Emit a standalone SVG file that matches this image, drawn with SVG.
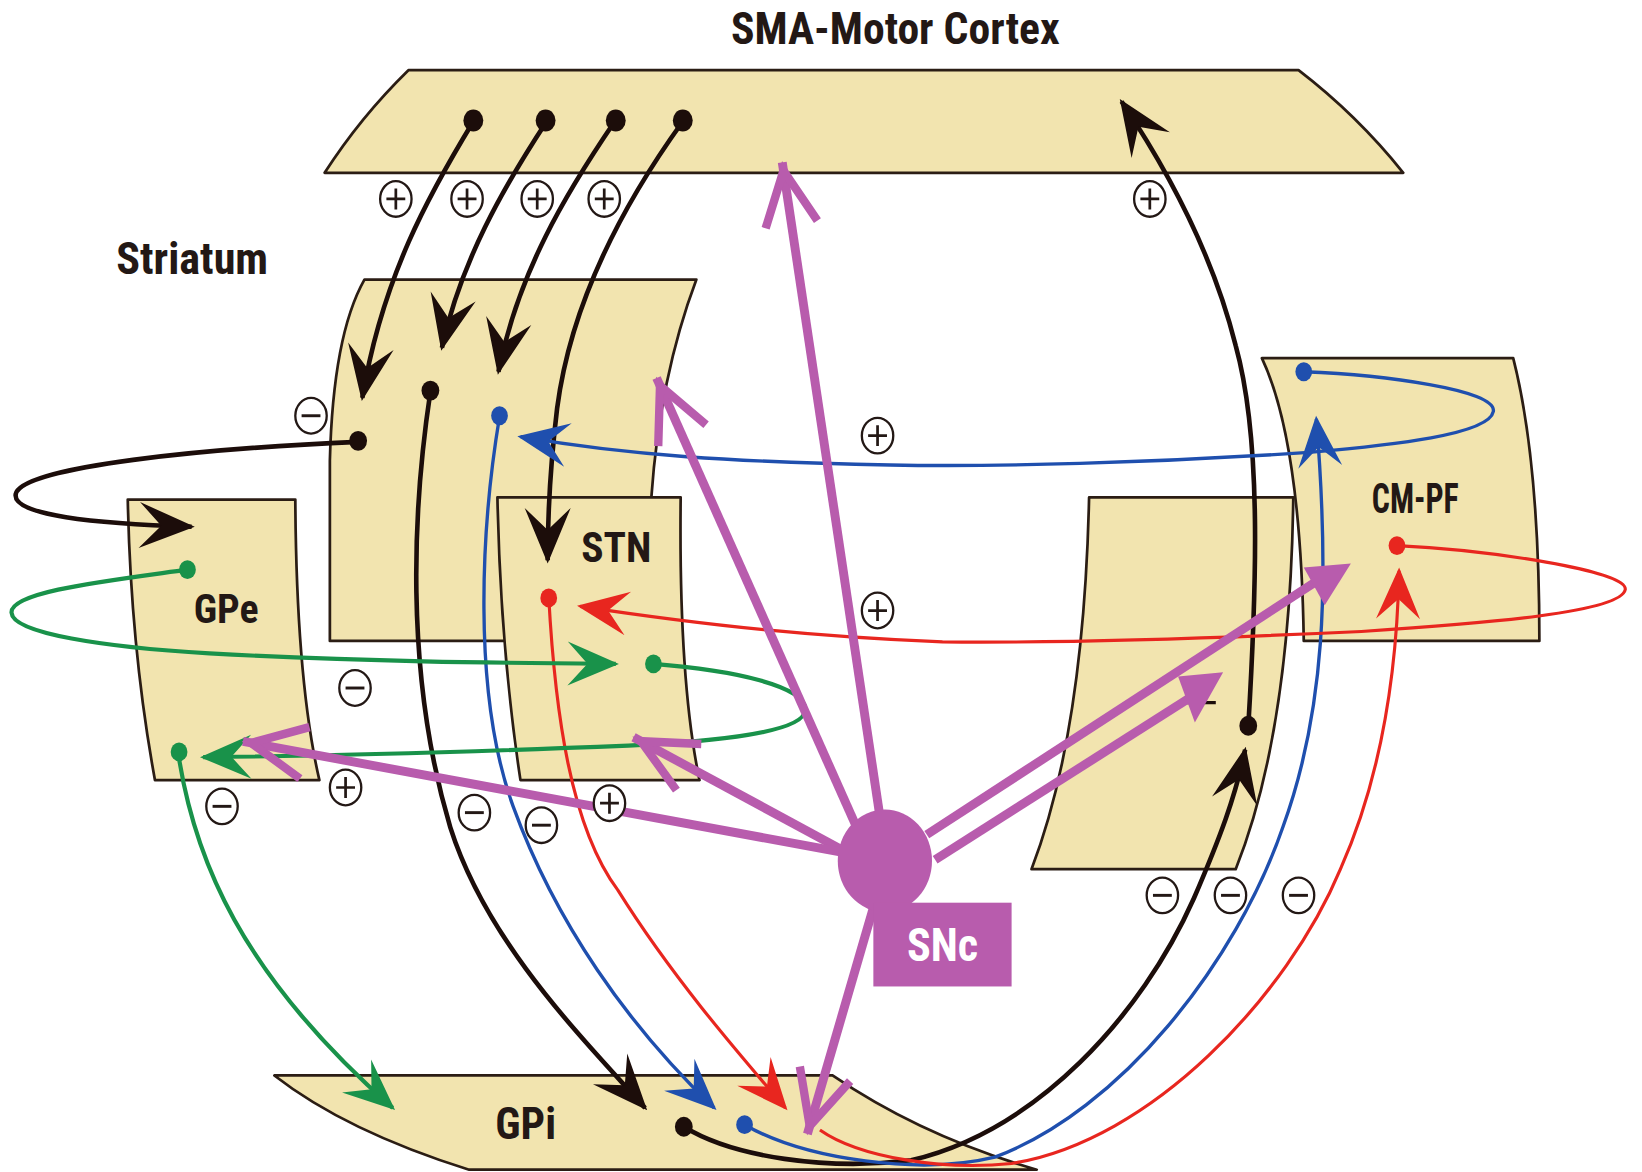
<svg xmlns="http://www.w3.org/2000/svg" width="1642" height="1172" viewBox="0 0 1642 1172">
<style>
.shape{fill:#f2e4af;stroke:#2b1d14;stroke-width:2.6;stroke-linejoin:round}
.lbl{font-family:"Liberation Sans Narrow","Roboto Condensed","Liberation Sans",Arial,sans-serif;font-weight:bold;fill:#231815}
.fk{fill:none;stroke:#1c0d0a;stroke-width:4.4}
.fb{fill:none;stroke:#1f4fae;stroke-width:3.2}
.fr{fill:none;stroke:#e8261f;stroke-width:3}
.fg{fill:none;stroke:#19924a;stroke-width:4}
.mg{fill:none;stroke:#b85cad;stroke-width:8.5}
.dk{fill:#1c0d0a}.db{fill:#1f4fae}.dr{fill:#e8261f}.dg{fill:#19924a}
</style>
<defs>
<marker id="ak" markerUnits="userSpaceOnUse" orient="auto" overflow="visible" refX="0" refY="0" markerWidth="1" markerHeight="1"><path d="M3,0 L-50,-22 L-29,0 L-50,22 Z" fill="#1c0d0a"/></marker>
<marker id="ab" markerUnits="userSpaceOnUse" orient="auto" overflow="visible" refX="0" refY="0" markerWidth="1" markerHeight="1"><path d="M3,0 L-46,-21 L-27,0 L-46,21 Z" fill="#1f4fae"/></marker>
<marker id="ar" markerUnits="userSpaceOnUse" orient="auto" overflow="visible" refX="0" refY="0" markerWidth="1" markerHeight="1"><path d="M3,0 L-46,-21 L-27,0 L-46,21 Z" fill="#e8261f"/></marker>
<marker id="ag" markerUnits="userSpaceOnUse" orient="auto" overflow="visible" refX="0" refY="0" markerWidth="1" markerHeight="1"><path d="M3,0 L-46,-21 L-27,0 L-46,21 Z" fill="#19924a"/></marker>
<marker id="am" markerUnits="userSpaceOnUse" orient="auto" overflow="visible" refX="0" refY="0" markerWidth="1" markerHeight="1"><path d="M-60,-25 L-8,0 L-60,25" fill="none" stroke="#b85cad" stroke-width="8" stroke-linejoin="miter"/></marker>
<g id="plus"><ellipse rx="15" ry="17" fill="#fff" stroke="#231815" stroke-width="2.2"/><path d="M-9,0H9M0,-10V10" stroke="#231815" stroke-width="2.6"/></g>
<g id="minus"><ellipse rx="15" ry="17" fill="#fff" stroke="#231815" stroke-width="2.2"/><path d="M-9,0H9" stroke="#231815" stroke-width="2.8"/></g>
</defs>
<rect width="1642" height="1172" fill="#fff"/>
<g transform="scale(1.0472)">
<g id="cortex">
<path class="shape" d="M390,67 L1240,67 Q1296,110 1340,165 L310,165 Q344,112 390,67 Z"/>
<text class="lbl" x="698" y="42" font-size="42" textLength="314" lengthAdjust="spacingAndGlyphs">SMA-Motor Cortex</text>
</g>
<g id="striatum">
<path class="shape" d="M348,267 L665,267 Q630,360 622,475 L600,612 L315,612 L315,440 Q318,320 348,267 Z"/>
<text class="lbl" x="111" y="262" font-size="42" textLength="145" lengthAdjust="spacingAndGlyphs">Striatum</text>
</g>
<g id="gpe">
<path class="shape" d="M122,477 L282,477 Q283,650 305,745 L148,745 Q125,620 122,477 Z"/>
<text class="lbl" x="185" y="595" font-size="39" textLength="62" lengthAdjust="spacingAndGlyphs">GPe</text>
</g>
<g id="stn">
<path class="shape" d="M475,475 L650,475 Q648,650 668,745 L497,745 Q478,620 475,475 Z"/>
<text class="lbl" x="555" y="537" font-size="40" textLength="67" lengthAdjust="spacingAndGlyphs">STN</text>
</g>
<g id="thalamus">
<path class="shape" d="M1040,475 L1235,475 Q1232,700 1180,830 L985,830 Q1035,700 1040,475 Z"/>
<path d="M1130,671 H1161" stroke="#1c0d0a" stroke-width="3"/>
</g>
<g id="cmpf">
<path class="shape" d="M1205,342 L1445,342 Q1470,440 1470,612 L1245,612 Q1242,420 1205,342 Z"/>
<text class="lbl" x="1310" y="490" font-size="41" textLength="83" lengthAdjust="spacingAndGlyphs">CM-PF</text>
</g>
<g id="gpi">
<path class="shape" d="M262,1027 L795,1027 Q880,1085 990,1117 L448,1117 Q330,1080 262,1027 Z"/>
<text class="lbl" x="473" y="1088" font-size="42" textLength="58" lengthAdjust="spacingAndGlyphs">GPi</text>
</g>
<g id="connectors">
<path class="fk" d="M452,116 C410,185 365,265 346,380" marker-end="url(#ak)"/>
<path class="fk" d="M522,116 C480,180 440,250 422,332" marker-end="url(#ak)"/>
<path class="fk" d="M587,116 C540,185 495,260 476,355" marker-end="url(#ak)"/>
<path class="fk" d="M652,116 C595,195 545,290 532,390 C526,440 523,490 523,535" marker-end="url(#ak)"/>
<path class="fk" d="M342,422 C200,428 20,445 15,472 C12,492 90,500 183,503" marker-end="url(#ak)"/>
<path class="fk" d="M411,374 C395,480 385,640 430,790 C465,900 555,990 616,1058" marker-end="url(#ak)"/>
<path class="fk" d="M653,1076 C700,1105 790,1118 870,1108 C990,1080 1090,970 1140,858 C1165,800 1180,760 1189,716" marker-end="url(#ak)"/>
<path class="fk" d="M1192,694 C1200,560 1205,420 1180,330 C1160,250 1120,170 1071,97" marker-end="url(#ak)"/>
<path class="fb" d="M477,398 C460,500 450,660 490,770 C530,880 600,980 682,1058" marker-end="url(#ab)"/>
<path class="fb" stroke-width="4.5" d="M1245,355 C1320,358 1430,372 1426,393 C1422,415 1330,425 1250,432 C1100,442 950,446 850,444 C700,441 600,435 497,417" marker-end="url(#ab)"/>
<path class="fb" d="M711,1074 C770,1108 880,1122 950,1105 C1070,1060 1180,920 1225,790 C1265,680 1270,560 1257,400" marker-end="url(#ab)"/>
<path class="fr" d="M524,570 C530,680 545,790 590,850 C640,930 700,1000 750,1058" marker-end="url(#ar)"/>
<path class="fr" stroke-width="4" d="M1334,521 C1420,525 1555,545 1552,563 C1548,585 1420,595 1300,603 C1150,610 1000,614 900,613 C780,608 680,598 554,579" marker-end="url(#ar)"/>
<path class="fr" d="M783,1079 C820,1105 900,1118 966,1111 C1100,1090 1230,950 1280,830 C1320,740 1334,640 1336,545" marker-end="url(#ar)"/>
<path class="fg" d="M179,544 C100,555 10,565 11,585 C12,605 100,618 200,624 C350,632 480,633 588,634" marker-end="url(#ag)"/>
<path class="fg" d="M624,634 C700,640 770,655 769,678 C768,700 680,708 600,712 C450,718 300,722 194,723" marker-end="url(#ag)"/>
<path class="fg" d="M170,718 C185,820 230,930 375,1058" marker-end="url(#ag)"/>
<path class="mg" d="M840,778 L747,155" marker-end="url(#am)"/>
<path class="mg" d="M818,790 L627,361" marker-end="url(#am)"/>
<path class="mg" d="M805,812 L605,704" marker-end="url(#am)"/>
<path class="mg" d="M810,815 L232,708" marker-end="url(#am)"/>
<path class="mg" d="M836,860 L771,1083" marker-end="url(#am)"/>
<path class="mg" d="M885,797 L1262,552"/>
<path class="mg" d="M893,821 L1143,662"/>
<polygon points="1245,542 1290,538 1265,578" fill="#b85cad"/>
<polygon points="1125,646 1168,642 1141,690" fill="#b85cad"/>
</g>
<g id="dots">
<ellipse class="dk" cx="452" cy="115" rx="9.5" ry="10.5"/>
<ellipse class="dk" cx="521" cy="115" rx="9.5" ry="10.5"/>
<ellipse class="dk" cx="588" cy="115" rx="9.5" ry="10.5"/>
<ellipse class="dk" cx="652" cy="115" rx="9.5" ry="10.5"/>
<ellipse class="dk" cx="342" cy="421" rx="8.5" ry="9.5"/>
<ellipse class="dk" cx="411" cy="373" rx="8.5" ry="9.5"/>
<ellipse class="dk" cx="653" cy="1076" rx="8.5" ry="9.5"/>
<ellipse class="dk" cx="1192" cy="693" rx="8.5" ry="9.5"/>
<ellipse class="db" cx="477" cy="397" rx="8" ry="9"/>
<ellipse class="db" cx="711" cy="1074" rx="8" ry="9"/>
<ellipse class="db" cx="1245" cy="355" rx="8" ry="9"/>
<ellipse class="dr" cx="524" cy="571" rx="8" ry="9"/>
<ellipse class="dr" cx="1334" cy="521" rx="8" ry="9"/>
<ellipse class="dg" cx="179" cy="544" rx="8" ry="9"/>
<ellipse class="dg" cx="624" cy="634" rx="8" ry="9"/>
<ellipse class="dg" cx="171" cy="718" rx="8" ry="9"/>
</g>
<g id="snc">
<ellipse cx="845" cy="822" rx="45" ry="49" fill="#b85cad"/>
<rect x="834" y="862" width="132" height="80" fill="#b85cad"/>
<text class="lbl" x="866" y="918" font-size="44" style="fill:#fff" textLength="68" lengthAdjust="spacingAndGlyphs">SNc</text>
</g>
<g id="signs">
<use href="#plus" x="378" y="190"/>
<use href="#plus" x="446" y="190"/>
<use href="#plus" x="513" y="190"/>
<use href="#plus" x="577" y="190"/>
<use href="#plus" x="1098" y="190"/>
<use href="#plus" x="838" y="416"/>
<use href="#plus" x="838" y="583"/>
<use href="#plus" x="330" y="752"/>
<use href="#plus" x="582" y="767"/>
<use href="#minus" x="297" y="397"/>
<use href="#minus" x="339" y="657"/>
<use href="#minus" x="212" y="770"/>
<use href="#minus" x="453" y="776"/>
<use href="#minus" x="517" y="788"/>
<use href="#minus" x="1110" y="855"/>
<use href="#minus" x="1175" y="855"/>
<use href="#minus" x="1240" y="855"/>
</g>
</g>
</svg>
